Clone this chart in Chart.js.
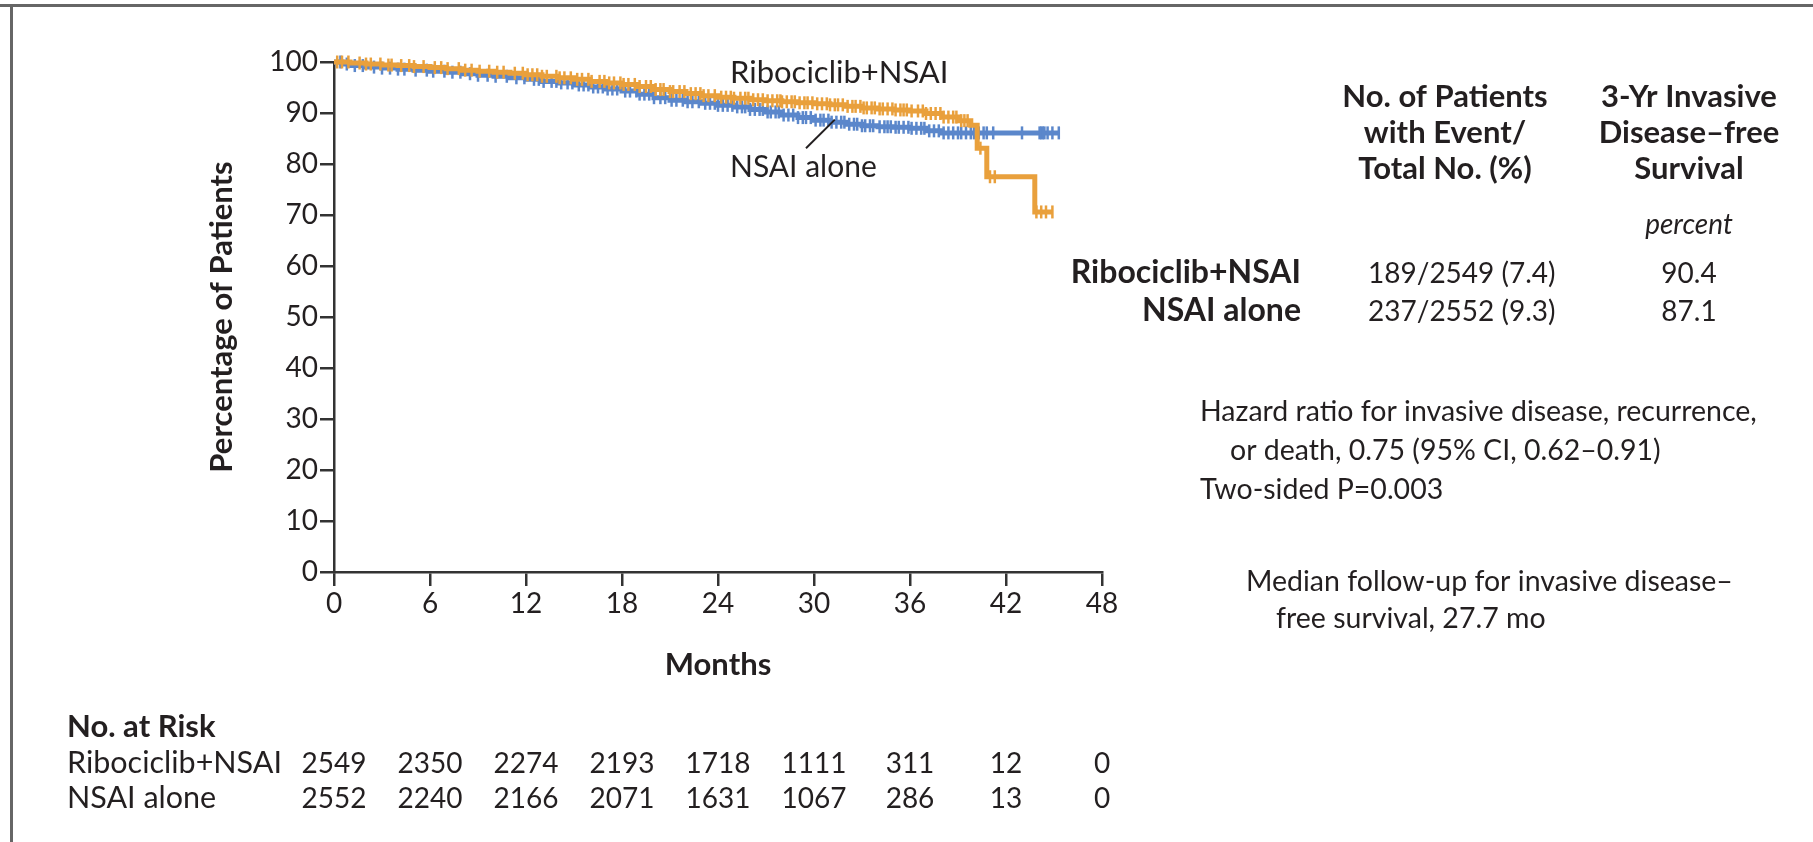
<!DOCTYPE html>
<html>
<head>
<meta charset="utf-8">
<title>Invasive disease-free survival</title>
<script src="https://cdn.jsdelivr.net/npm/chart.js@4.4.1/dist/chart.umd.min.js"></script>
<style>
  html, body { margin: 0; padding: 0; background: #fff; }
  #wrap { position: relative; width: 1813px; height: 842px; overflow: hidden; }
  canvas { display: block; }
</style>
</head>
<body>
<div id="wrap"><canvas id="km" width="1813" height="842"></canvas></div>
<script>
// Kaplan-Meier estimates: [month, percent of patients event-free]
const riboSteps = [
  [0,100],[1,99.8],[2,99.6],[3,99.4],[4,99.3],[5,99.1],[6,98.9],[7,98.7],[8,98.4],[9,98.2],
  [10,98.0],[11,97.8],[12,97.5],[13,97.2],[14,96.9],[15,96.6],[16,96.2],[17,95.9],[18,95.6],
  [19,95.2],[20,94.6],[21,94.2],[22,93.8],[23,93.4],[24,93.1],[25,92.9],[26,92.6],[27,92.4],
  [28,92.2],[29,92.0],[30,91.8],[31,91.6],[32,91.3],[33,91.0],[34,90.8],[35,90.6],[36,90.4],
  [37,89.9],[38,89.2],[39,88.5],[39.8,87.6],[40.2,83.1],[40.8,77.5],[43.8,70.6],[44.9,70.6]
];
const nsaiSteps = [
  [0,100],[0.5,99.6],[1,99.3],[2,99.0],[3,98.8],[4,98.6],[5,98.4],[6,98.2],[7,98.0],[8,97.7],
  [9,97.4],[10,97.2],[11,96.9],[12,96.6],[13,96.2],[14,95.9],[15,95.5],[16,95.1],[17,94.7],
  [18,94.3],[19,93.7],[20,93.0],[21,92.5],[22,92.2],[23,91.9],[24,91.5],[25,91.2],[26,90.7],
  [27,90.2],[28,89.6],[29,89.1],[30,88.6],[31,88.2],[32,87.8],[33,87.5],[34,87.3],[35,87.2],
  [36,87.0],[37,86.5],[38,86.1],[45.3,86.1]
];

// Censoring times (months)
const riboCensored = [
  0.2,0.5,0.9,1.6,2.0,2.3,2.9,3.4,3.6,4.2,4.7,5.0,5.6,6.3,6.7,7.1,7.8,8.2,8.6,9.1,9.7,10.2,
  10.6,11.3,11.8,12.1,12.4,12.7,13.0,13.3,13.9,14.1,14.4,14.8,15.2,15.5,15.9,16.1,16.6,16.9,
  17.2,17.5,17.9,18.1,18.4,18.8,19.1,19.5,19.8,20.1,20.4,20.6,21.0,21.2,21.6,21.9,22.3,22.6,
  22.9,23.1,23.4,23.8,24.2,24.5,24.8,25.0,25.4,25.7,25.9,26.2,26.5,26.8,27.1,27.4,27.7,27.9,
  28.0,28.3,28.6,28.8,29.1,29.4,29.6,29.9,30.2,30.5,30.8,31.0,31.3,31.5,31.8,32.1,32.4,32.6,
  32.9,33.1,33.3,33.6,33.8,34.1,34.3,34.6,34.9,35.1,35.4,35.6,35.8,36.1,36.5,36.8,37.0,37.3,
  37.6,37.9,38.1,38.4,38.7,38.9,39.2,39.4,39.6,40.4,41.0,41.3,43.9,44.2,44.5,44.9
];
const nsaiCensored = [
  0.4,0.8,1.3,1.8,2.5,3.0,3.5,4.0,4.4,5.1,5.8,6.2,6.9,7.4,7.9,8.5,9.0,9.6,10.1,10.8,11.4,11.9,
  12.5,12.8,13.1,13.6,13.9,14.2,14.6,14.9,15.3,15.6,15.9,16.2,16.5,16.8,17.1,17.4,17.7,18.2,
  18.5,18.9,19.1,19.4,19.7,20.0,20.4,20.7,21.1,21.4,21.8,22.1,22.4,22.8,23.2,23.5,23.8,24.0,
  24.3,24.6,24.9,25.2,25.5,25.7,26.0,26.3,26.6,26.8,27.1,27.3,27.6,27.8,28.1,28.4,28.7,29.0,
  29.3,29.5,29.8,30.1,30.4,30.6,30.9,31.1,31.4,31.7,31.9,32.2,32.5,32.7,33.0,33.2,33.5,33.7,
  34.1,34.4,34.6,34.8,35.1,35.3,35.6,35.9,36.1,36.4,36.7,36.9,37.2,37.5,37.8,38.1,38.4,38.7,
  39.0,39.2,39.5,39.8,40.0,40.3,40.6,40.8,41.2,43.0,44.1,44.2,44.3,44.4,44.6,44.9,45.3
];

const monthTicks = [0, 6, 12, 18, 24, 30, 36, 42, 48];
const percentTicks = [0, 10, 20, 30, 40, 50, 60, 70, 80, 90, 100];

// Number at risk at each month tick
const riskRibo = [2549, 2350, 2274, 2193, 1718, 1111, 311, 12, 0];
const riskNsai = [2552, 2240, 2166, 2071, 1631, 1067, 286, 13, 0];

const armNames = ['Ribociclib+NSAI', 'NSAI alone'];
const eventCounts = ['189/2549 (7.4)', '237/2552 (9.3)'];
const threeYearDfs = ['90.4', '87.1'];

const ORANGE = '#E9A03C';
const BLUE = '#5B87CB';
const INK = '#231F20';
const FONT = "Lato, 'Open Sans', 'DejaVu Sans', sans-serif";

// value of a step curve at time t (last step at or before t)
function valueAt(steps, t) {
  let v = steps[0][1];
  for (const [x, y] of steps) { if (x <= t) v = y; else break; }
  return v;
}
const toXY = steps => steps.map(([x, y]) => ({ x, y }));
const censorPoints = (times, steps) => times.map(t => ({ x: t, y: valueAt(steps, t) }));

function text(ctx, s, x, y, size, weight, align, style) {
  ctx.font = `${style || 'normal'} ${weight} ${size}px ${FONT}`;
  ctx.textAlign = align;
  ctx.textBaseline = 'alphabetic';
  ctx.fillStyle = INK;
  ctx.fillText(s, x, y);
}

const frame = {
  id: 'frame',
  beforeDraw(chart) {
    const ctx = chart.ctx;
    ctx.save();
    ctx.fillStyle = '#fff';
    ctx.fillRect(0, 0, chart.width, chart.height);
    ctx.fillStyle = '#666';
    ctx.fillRect(0, 4, chart.width, 3);
    ctx.fillRect(10, 4, 3, chart.height - 4);
    ctx.restore();
  }
};

const annotations = {
  id: 'annotations',
  afterDraw(chart) {
    const ctx = chart.ctx;
    const xs = chart.scales.x, ys = chart.scales.y;
    ctx.save();

    // curve labels and leader line
    text(ctx, armNames[0], 730, 83, 31, 400, 'left');
    text(ctx, armNames[1], 730, 177, 30, 400, 'left');
    ctx.strokeStyle = INK;
    ctx.lineWidth = 2;
    ctx.beginPath();
    ctx.moveTo(xs.getPixelForValue(29.5), ys.getPixelForValue(83.1));
    ctx.lineTo(xs.getPixelForValue(31.3), ys.getPixelForValue(88.7));
    ctx.stroke();

    // summary table
    const c1 = 1445, c2 = 1689;
    ['No. of Patients', 'with Event/', 'Total No. (%)'].forEach((s, i) =>
      text(ctx, s, c1, 107 + i * 36, 31, 700, 'center'));
    ['3-Yr Invasive', 'Disease\u2013free', 'Survival'].forEach((s, i) =>
      text(ctx, s, c2, 107 + i * 36, 31, 700, 'center'));
    text(ctx, 'percent', c2, 234, 28, 400, 'center', 'italic');
    armNames.forEach((name, i) => {
      const y = 283 + i * 38;
      text(ctx, name, 1301, y, 32, 700, 'right');
      text(ctx, eventCounts[i], 1368, y, 28, 400, 'left');
      text(ctx, threeYearDfs[i], c2, y, 28, 400, 'center');
    });
    text(ctx, 'Hazard ratio for invasive disease, recurrence,', 1200, 421, 28.5, 400, 'left');
    text(ctx, 'or death, 0.75 (95% CI, 0.62\u20130.91)', 1230, 460, 28.5, 400, 'left');
    text(ctx, 'Two-sided P=0.003', 1200, 499, 28.5, 400, 'left');
    text(ctx, 'Median follow-up for invasive disease\u2013', 1246, 591, 28.5, 400, 'left');
    text(ctx, 'free survival, 27.7 mo', 1276, 628, 28.5, 400, 'left');

    // number at risk
    text(ctx, 'No. at Risk', 67, 737, 31, 700, 'left');
    text(ctx, armNames[0], 67, 773, 30.5, 400, 'left');
    text(ctx, armNames[1], 67, 808, 30.5, 400, 'left');
    monthTicks.forEach((m, i) => {
      const px = xs.getPixelForValue(m);
      text(ctx, String(riskRibo[i]), px, 773, 28, 400, 'center');
      text(ctx, String(riskNsai[i]), px, 808, 28, 400, 'center');
    });
    ctx.restore();
  }
};

const lineStyle = color => ({
  showLine: true, stepped: true, borderColor: color, borderWidth: 5,
  pointRadius: 0, fill: false, clip: false
});
const censorStyle = color => ({
  showLine: false, pointStyle: 'line', rotation: 90, pointRadius: 6.5,
  pointBorderWidth: 2.5, borderColor: color, backgroundColor: color, clip: false
});

new Chart(document.getElementById('km'), {
  type: 'scatter',
  data: {
    datasets: [
      { label: 'Ribociclib+NSAI censored', data: censorPoints(riboCensored, riboSteps), ...censorStyle(ORANGE) },
      { label: 'Ribociclib+NSAI', data: toXY(riboSteps), ...lineStyle(ORANGE) },
      { label: 'NSAI alone censored', data: censorPoints(nsaiCensored, nsaiSteps), ...censorStyle(BLUE) },
      { label: 'NSAI alone', data: toXY(nsaiSteps), ...lineStyle(BLUE) }
    ]
  },
  options: {
    responsive: false,
    animation: false,
    devicePixelRatio: 1,
    events: [],
    layout: { padding: { left: 0, top: 62, right: 711, bottom: 158 } },
    plugins: { legend: { display: false }, tooltip: { enabled: false } },
    scales: {
      x: {
        type: 'linear', min: 0, max: 48,
        afterBuildTicks: s => { s.ticks = monthTicks.map(v => ({ value: v })); },
        afterFit: s => { s.height = 112; },
        grid: { drawOnChartArea: false, drawTicks: true, tickLength: 14, color: '#333', lineWidth: 2.5 },
        border: { display: true, color: '#333', width: 2.5 },
        ticks: { font: { family: FONT, size: 28 }, color: INK, padding: 1, maxRotation: 0, autoSkip: false },
        title: { display: true, text: 'Months', color: INK, font: { family: FONT, size: 31, weight: 'bold' }, padding: { top: 0, bottom: 0 } }
      },
      y: {
        type: 'linear', min: 0, max: 100,
        afterBuildTicks: s => { s.ticks = percentTicks.map(v => ({ value: v })); },
        afterFit: s => { s.width = 334; },
        grid: { drawOnChartArea: false, drawTicks: true, tickLength: 14, color: '#333', lineWidth: 2.5 },
        border: { display: true, color: '#333', width: 2.5 },
        ticks: { font: { family: FONT, size: 28 }, color: INK, padding: 2, autoSkip: false },
        title: { display: true, text: 'Percentage of Patients', color: INK, font: { family: FONT, size: 31, weight: 'bold' }, padding: { top: 203, bottom: 0 } }
      }
    }
  },
  plugins: [frame, annotations]
});
</script>
</body>
</html>
